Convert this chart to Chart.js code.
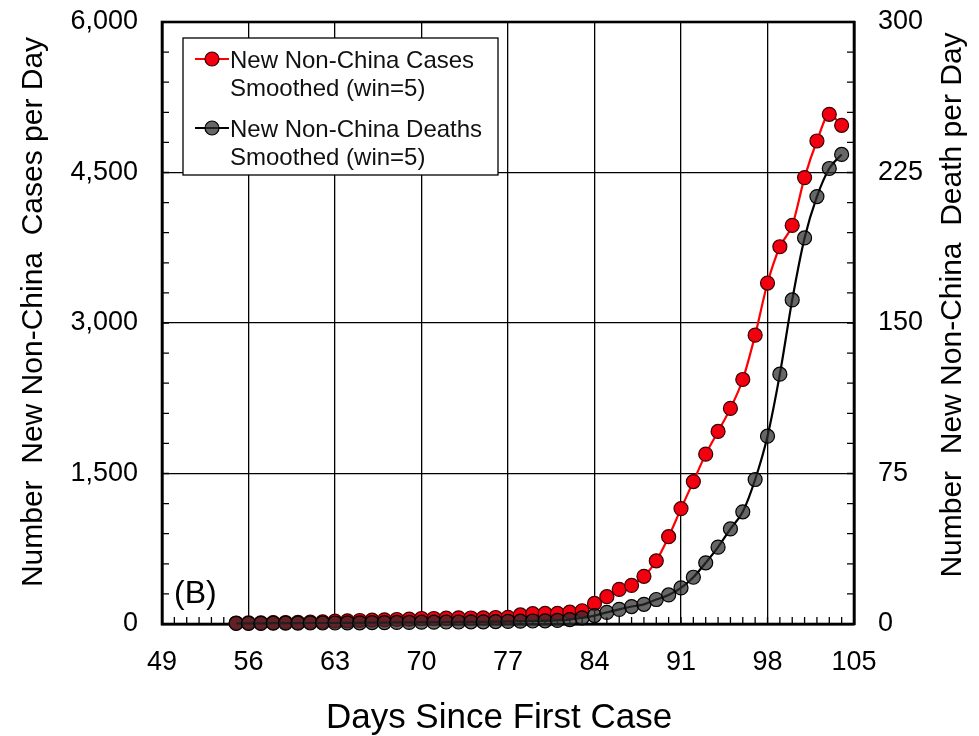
<!DOCTYPE html>
<html>
<head>
<meta charset="utf-8">
<script src="https://cdn.jsdelivr.net/npm/chart.js@4/dist/chart.umd.min.js"></script>
<style>
  html, body { margin: 0; padding: 0; background: #ffffff; }
  canvas { display: block; }
</style>
</head>
<body>
<canvas id="chart" width="979" height="736"></canvas>
<script>
// Days since the first case (x axis)
const days = [55, 56, 57, 58, 59, 60, 61, 62, 63, 64,
              65, 66, 67, 68, 69, 70, 71, 72, 73, 74,
              75, 76, 77, 78, 79, 80, 81, 82, 83, 84,
              85, 86, 87, 88, 89, 90, 91, 92, 93, 94,
              95, 96, 97, 98, 99, 100, 101, 102, 103, 104];

// New non-China cases per day, 5-day smoothed (left axis)
const newCases = [10, 12, 12, 14, 15, 16, 18, 22, 28, 32,
                  35, 38, 42, 45, 48, 55, 55, 58, 62, 60,
                  62, 65, 66, 90, 103, 105, 106, 118, 132, 205,
                  272, 345, 385, 475, 630, 870, 1150, 1420, 1693, 1919,
                  2149, 2437, 2879, 3398, 3760, 3973, 4449, 4814, 5080, 4970];

// New non-China deaths per day, 5-day smoothed (right axis)
const newDeaths = [0.3, 0.3, 0.3, 0.4, 0.4, 0.4, 0.5, 0.5, 0.5, 0.6,
                   0.6, 0.7, 0.7, 0.8, 0.8, 0.9, 0.9, 1.0, 1.0, 1.1,
                   1.1, 1.2, 1.3, 1.4, 1.5, 1.6, 1.8, 2.2, 3.1, 4.2,
                   5.8, 7.3, 8.7, 9.8, 12.2, 14.5, 18, 23.3, 30.5, 38.3,
                   47.4, 55.9, 72, 93.6, 124.5, 161.5, 192.4, 213, 227, 234];

const dayTicks = [49, 56, 63, 70, 77, 84, 91, 98, 105];
const caseTicks = [0, 1500, 3000, 4500, 6000];
const deathTicks = [0, 75, 150, 225, 300];

const casesLegend = ['New Non-China Cases', 'Smoothed (win=5)'];
const deathsLegend = ['New Non-China Deaths', 'Smoothed (win=5)'];

const FONT = '"Liberation Sans", Arial, Helvetica, sans-serif';

const casePoints = days.map((d, i) => ({ x: d, y: newCases[i] }));
const deathPoints = days.map((d, i) => ({ x: d, y: newDeaths[i] }));

// Inward minor ticks and the plot frame
const framePlugin = {
  id: 'frame',
  beforeDatasetsDraw(chart) {
    const { ctx, chartArea: a, scales } = chart;
    ctx.save();
    ctx.strokeStyle = '#000';
    ctx.lineWidth = 1.3;
    const len = 7;
    ctx.beginPath();
    for (let d = 49; d <= 105; d++) {
      const px = scales.x.getPixelForValue(d);
      ctx.moveTo(px, a.bottom);
      ctx.lineTo(px, a.bottom - len);
    }
    for (let v = 0; v <= 6000; v += 300) {
      const py = scales.y.getPixelForValue(v);
      ctx.moveTo(a.left, py);
      ctx.lineTo(a.left + len, py);
    }
    for (let v = 0; v <= 300; v += 15) {
      const py = scales.y1.getPixelForValue(v);
      ctx.moveTo(a.right, py);
      ctx.lineTo(a.right - len, py);
    }
    ctx.stroke();
    ctx.lineWidth = 2.6;
    ctx.strokeRect(a.left, a.top, a.right - a.left, a.bottom - a.top);
    ctx.restore();
  }
};

function drawMarker(ctx, x, y, ds) {
  ctx.beginPath();
  ctx.strokeStyle = ds.borderColor;
  ctx.lineWidth = ds.borderWidth;
  ctx.moveTo(x - 17, y);
  ctx.lineTo(x + 17, y);
  ctx.stroke();
  ctx.beginPath();
  ctx.arc(x, y, ds.pointRadius, 0, Math.PI * 2);
  ctx.fillStyle = ds.pointBackgroundColor;
  ctx.fill();
  ctx.lineWidth = ds.pointBorderWidth;
  ctx.strokeStyle = ds.pointBorderColor;
  ctx.stroke();
}

// Legend box, panel tag and axis titles
const annotatePlugin = {
  id: 'annotate',
  afterDraw(chart) {
    const { ctx, chartArea: a } = chart;
    const ds = chart.data.datasets;
    ctx.save();

    // legend
    ctx.fillStyle = '#fff';
    ctx.fillRect(183, 38, 315, 137);
    ctx.strokeStyle = '#000';
    ctx.lineWidth = 1.3;
    ctx.strokeRect(183, 38, 315, 137);
    drawMarker(ctx, 212, 59, ds[1]);
    drawMarker(ctx, 212, 128, ds[0]);
    ctx.fillStyle = '#111';
    ctx.font = '24px ' + FONT;
    ctx.textAlign = 'left';
    ctx.textBaseline = 'alphabetic';
    ctx.fillText(casesLegend[0], 230, 68);
    ctx.fillText(casesLegend[1], 230, 96);
    ctx.fillText(deathsLegend[0], 230, 137);
    ctx.fillText(deathsLegend[1], 230, 165);

    // panel tag
    ctx.fillStyle = '#000';
    ctx.font = '32px ' + FONT;
    ctx.fillText('(B)', 174, 603);

    // x axis title
    ctx.font = '35px ' + FONT;
    ctx.textAlign = 'center';
    ctx.fillText('Days Since First Case', (a.left + a.right) / 2 - 9, 728);

    // y axis titles (both read bottom to top)
    ctx.font = '30px ' + FONT;
    ctx.textBaseline = 'middle';
    ctx.save();
    ctx.translate(34, 312);
    ctx.rotate(-Math.PI / 2);
    ctx.fillText('Number  New Non-China  Cases per Day', 0, 0);
    ctx.restore();
    ctx.save();
    ctx.translate(953, 305);
    ctx.rotate(-Math.PI / 2);
    ctx.fillText('Number  New Non-China  Death per Day', 0, 0);
    ctx.restore();

    ctx.restore();
  }
};

function fixVertical(width) {
  return function (scale) {
    scale.width = width;
    scale.paddingTop = 0;
    scale.paddingBottom = 0;
  };
}

new Chart(document.getElementById('chart'), {
  type: 'line',
  data: {
    datasets: [
      {
        label: deathsLegend.join(' '),
        data: deathPoints,
        yAxisID: 'y1',
        borderColor: '#000000',
        borderWidth: 2.2,
        pointRadius: 7,
        pointBackgroundColor: 'rgba(45,45,45,0.72)',
        pointBorderColor: '#000000',
        pointBorderWidth: 1.2,
        cubicInterpolationMode: 'monotone',
        clip: false,
        order: 0
      },
      {
        label: casesLegend.join(' '),
        data: casePoints,
        yAxisID: 'y',
        borderColor: '#ff0000',
        borderWidth: 2.2,
        pointRadius: 7,
        pointBackgroundColor: '#f20010',
        pointBorderColor: '#3a0000',
        pointBorderWidth: 1.2,
        cubicInterpolationMode: 'monotone',
        clip: false,
        order: 1
      }
    ]
  },
  options: {
    responsive: false,
    animation: false,
    layout: { autoPadding: false, padding: { top: 22, left: 0, right: 0, bottom: 0 } },
    plugins: {
      legend: { display: false },
      tooltip: { enabled: false }
    },
    scales: {
      x: {
        type: 'linear',
        position: 'bottom',
        min: 49,
        max: 105,
        afterBuildTicks(scale) { scale.ticks = dayTicks.map(v => ({ value: v })); },
        afterFit(scale) { scale.height = 112; scale.paddingLeft = 0; scale.paddingRight = 0; },
        ticks: {
          color: '#000',
          font: { family: FONT, size: 27 },
          padding: 22,
          maxRotation: 0,
          autoSkip: false
        },
        grid: { color: '#000', lineWidth: 1.3, drawTicks: false },
        border: { display: true, color: '#000', width: 2.6 }
      },
      y: {
        type: 'linear',
        position: 'left',
        min: 0,
        max: 6000,
        afterBuildTicks(scale) { scale.ticks = caseTicks.map(v => ({ value: v })); },
        afterFit: fixVertical(162),
        ticks: {
          color: '#000',
          font: { family: FONT, size: 27 },
          padding: 24,
          callback: v => v.toLocaleString('en-US')
        },
        grid: { color: '#000', lineWidth: 1.3, drawTicks: false },
        border: { display: true, color: '#000', width: 2.6 }
      },
      y1: {
        type: 'linear',
        position: 'right',
        min: 0,
        max: 300,
        afterBuildTicks(scale) { scale.ticks = deathTicks.map(v => ({ value: v })); },
        afterFit: fixVertical(125),
        ticks: {
          color: '#000',
          font: { family: FONT, size: 27 },
          padding: 24
        },
        grid: { drawOnChartArea: false, drawTicks: false },
        border: { display: true, color: '#000', width: 2.6 }
      }
    }
  },
  plugins: [framePlugin, annotatePlugin]
});
</script>
</body>
</html>
